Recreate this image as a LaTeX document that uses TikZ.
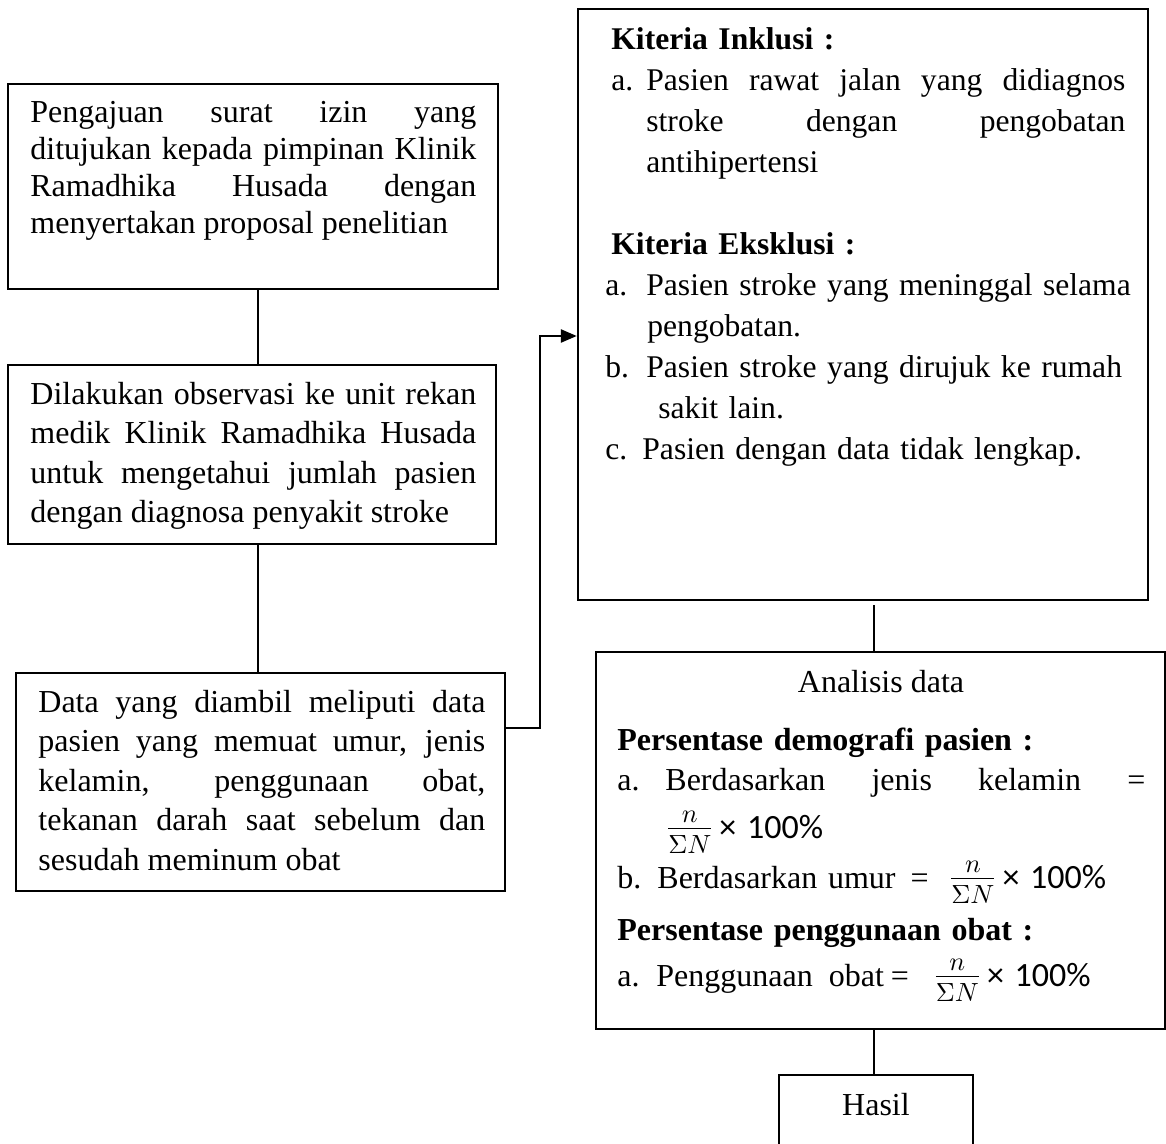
\documentclass[tikz,border=0pt]{standalone}
\usepackage{graphicx}
\usepackage{fontspec}
\setmainfont{Liberation Serif}
\setsansfont{Carlito}
\usetikzlibrary{arrows.meta,fit}
\newcommand{\rumus}{\smash{\raisebox{-0.5pt}{\scalebox{1.2}{$\frac{n}{\Sigma N}$}}}\,{\sffamily\fontsize{17}{17}\selectfont × 100\%}}
\newcommand{\rata}[2]{\makebox[#1][s]{\spaceskip=0pt\xspaceskip=0pt\relax #2}}

\begin{document}
\begin{tikzpicture}[x=0.5pt,y=-0.5pt,font=\fontsize{16}{18.5}\selectfont,
  kotak/.style={draw,line width=1.2pt,inner sep=0pt},
  isi/.style={anchor=base west,inner sep=0pt,align=justify},
  daftar/.style={anchor=base west,inner sep=0pt,align=left},
  garis/.style={line width=1.2pt}]

\useasboundingbox (0,0) rectangle (1166,1144);

% =========================
% KOTAK
% =========================

\node[kotak,fit={(8,84) (498,289)}] (b1) {};
\node[kotak,fit={(8,365) (496,544)}] (b2) {};
\node[kotak,fit={(16,673) (505,891)}] (b3) {};
\node[kotak,fit={(578,9) (1148,600)}] (b4) {};
\node[kotak,fit={(596,652) (1165,1029)}] (b5) {};
\node[kotak,fit={(779,1075) (973,1170)}] (b6) {};

% =========================
% TEKS
% =========================

\node[isi,text width=223pt] (t1) at (30,123) {Pengajuan surat izin yang\linebreak ditujukan kepada pimpinan Klinik\linebreak Ramadhika Husada dengan\linebreak menyertakan proposal penelitian};
\node[isi,text width=223pt,font=\fontsize{16}{19.8}\selectfont] (t2) at (30,404) {Dilakukan observasi ke unit rekan\linebreak medik Klinik Ramadhika Husada\linebreak untuk mengetahui jumlah pasien\linebreak dengan diagnosa penyakit stroke};
\node[isi,text width=223.5pt,font=\fontsize{16}{19.8}\selectfont] (t3) at (38,712) {Data yang diambil meliputi data\linebreak pasien yang memuat umur, jenis\linebreak kelamin, penggunaan obat,\linebreak tekanan darah saat sebelum dan\linebreak sesudah meminum obat};

\node[daftar,text width=275pt,font=\fontsize{15.8}{20.5}\selectfont] (t4) at (611,50) {%
\textbf{Kiteria Inklusi :}\\
\makebox[17.5pt][l]{a.}\rata{239.5pt}{Pasien rawat jalan yang didiagnos}\\
\hspace*{17.5pt}\rata{239.5pt}{stroke dengan pengobatan}\\
\hspace*{17.5pt}antihipertensi\\[20.5pt]
\textbf{Kiteria Eksklusi :}\\
\hspace*{-3pt}\makebox[20.5pt][l]{a.}Pasien stroke yang meninggal selama\\
\hspace*{18pt}pengobatan.\\
\hspace*{-3pt}\makebox[20.5pt][l]{b.}Pasien stroke yang dirujuk ke rumah\\
\hspace*{23.5pt}sakit lain.\\
\hspace*{-3pt}\makebox[18.5pt][l]{c.}Pasien dengan data tidak lengkap.};

\node[anchor=base,inner sep=0pt] (t5judul) at (881,692) {Analisis data};
\node[daftar,text width=280pt,font=\fontsize{16}{20}\selectfont] (t5) at (617,750) {%
\textbf{Persentase demografi pasien :}\\
\makebox[24pt][l]{a.}\rata{240pt}{Berdasarkan jenis kelamin =}\\[4pt]
\hspace*{24pt}\rumus\\[5pt]
b. Berdasarkan umur\hspace{7.5pt}=\hspace{10pt}\rumus\\[6pt]
\textbf{Persentase penggunaan obat :}\\[3pt]
\makebox[19.5pt][l]{a.}Penggunaan\hspace{8pt}obat\hspace{3.5pt}=\hspace{12pt}\rumus};

\node[anchor=base,inner sep=0pt] (t6) at (876,1115) {Hasil};

% =========================
% GARIS
% =========================

\coordinate (xkiri) at (258,0);
\coordinate (xkanan) at (874,0);
\coordinate (tekuk1) at (540,728);
\coordinate (tekuk2) at (540,336);

\draw[garis] (xkiri |- b1.south) -- (xkiri |- b2.north);
\draw[garis] (xkiri |- b2.south) -- (xkiri |- b3.north);

% data -> kriteria
\draw[garis,-{Triangle[length=8pt,width=6.5pt]}] (b3.east |- tekuk1) -- (tekuk1) -- (tekuk2) -- (b4.west |- tekuk2);

\draw[garis,shorten <=2pt] (xkanan |- b4.south) -- (xkanan |- b5.north);
\draw[garis] (xkanan |- b5.south) -- (xkanan |- b6.north);
\end{tikzpicture}
\end{document}
